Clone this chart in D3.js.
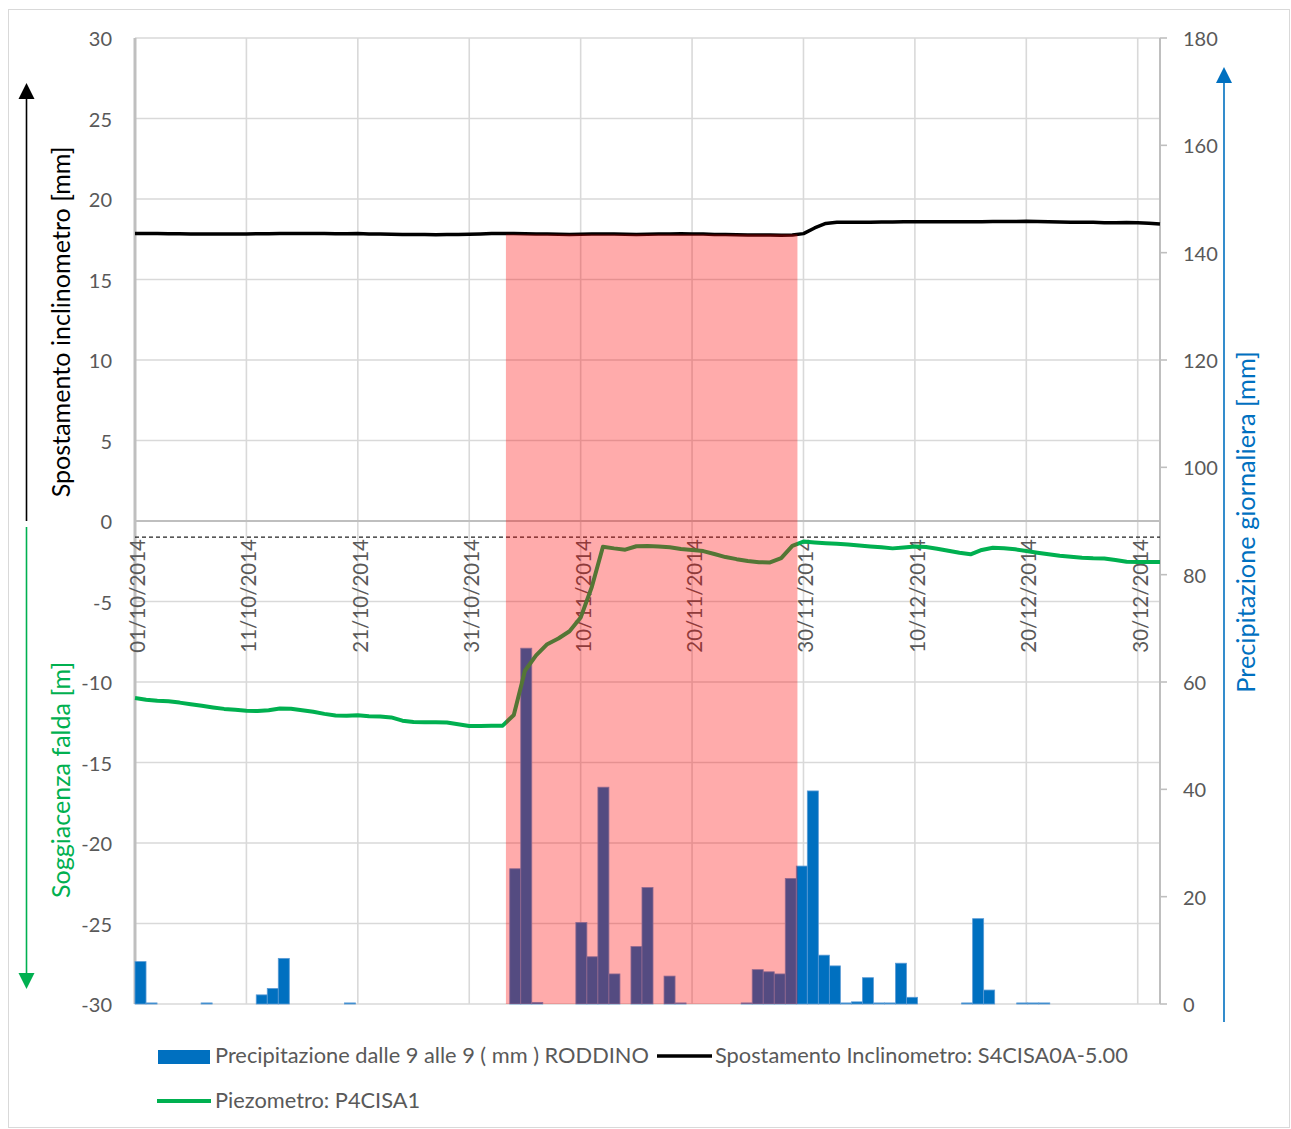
<!DOCTYPE html>
<html><head><meta charset="utf-8">
<script src="https://cdn.jsdelivr.net/npm/d3@7"></script>
<style>
body{margin:0;background:#fff}
svg{display:block}
text{font-family:Lato,"Open Sans",sans-serif}
</style>
</head><body>
<script>
// ---------- data ----------
const startDate = "2014-10-01";
const endDate = "2015-01-01";
// daily rain (mm), 01/10/2014 .. 01/01/2015
const precipitation = [
 7.9,0.2,0,0,0,0,0.2,0,0,0,
 0,1.7,2.9,8.5,0,0,0,0,0,0.2,
 0,0,0,0,0,0,0,0,0,0,
 0,0,0,0,25.2,66.3,0.3,0,0,0,
 15.2,8.8,40.4,5.6,0,10.7,21.7,0,5.2,0.2,
 0,0,0,0,0,0.2,6.4,6.0,5.6,23.4,
 25.7,39.7,9.1,7.1,0.2,0.4,4.9,0.2,0.2,7.6,
 1.25,0,0,0,0,0.2,15.9,2.6,0,0,
 0.2,0.2,0.2,0,0,0,0,0,0,0,
 0,0,0
];
// piezometer depth (m)
const piezometer = [
 -11.0,-11.1,-11.17,-11.2,-11.28,-11.38,-11.48,-11.58,-11.67,-11.72,
 -11.78,-11.8,-11.75,-11.65,-11.66,-11.75,-11.85,-11.98,-12.08,-12.1,
 -12.07,-12.12,-12.15,-12.2,-12.4,-12.48,-12.5,-12.5,-12.52,-12.62,
 -12.73,-12.73,-12.72,-12.71,-12.05,-9.3,-8.35,-7.65,-7.3,-6.85,
 -6.0,-4.1,-1.6,-1.7,-1.78,-1.57,-1.55,-1.58,-1.63,-1.74,
 -1.8,-1.87,-2.05,-2.24,-2.37,-2.48,-2.56,-2.57,-2.3,-1.55,
 -1.28,-1.33,-1.38,-1.42,-1.46,-1.52,-1.58,-1.63,-1.7,-1.65,
 -1.59,-1.62,-1.72,-1.85,-1.97,-2.07,-1.8,-1.66,-1.69,-1.76,
 -1.86,-1.97,-2.07,-2.16,-2.22,-2.28,-2.32,-2.33,-2.42,-2.53,
 -2.55,-2.55,-2.55
];
// inclinometer displacement (mm)
const inclinometer = [
 17.85,17.86,17.85,17.84,17.84,17.83,17.83,17.83,17.82,17.82,
 17.83,17.84,17.84,17.85,17.85,17.86,17.86,17.85,17.84,17.84,
 17.85,17.83,17.82,17.81,17.8,17.8,17.79,17.78,17.79,17.8,
 17.81,17.83,17.85,17.86,17.85,17.84,17.83,17.82,17.81,17.8,
 17.81,17.82,17.83,17.82,17.81,17.8,17.81,17.82,17.83,17.84,
 17.83,17.82,17.8,17.79,17.78,17.77,17.76,17.76,17.75,17.76,
 17.85,18.2,18.48,18.55,18.55,18.56,18.56,18.57,18.57,18.58,
 18.58,18.58,18.58,18.58,18.58,18.58,18.59,18.6,18.6,18.6,
 18.62,18.6,18.58,18.57,18.56,18.56,18.55,18.53,18.53,18.54,
 18.53,18.5,18.45
];
const xTickDates = ["2014-10-01","2014-10-11","2014-10-21","2014-10-31","2014-11-10",
  "2014-11-20","2014-11-30","2014-12-10","2014-12-20","2014-12-30"];
const leftTicks = [30,25,20,15,10,5,0,-5,-10,-15,-20,-25,-30];
const rightTicks = [0,20,40,60,80,100,120,140,160,180];
const highlightStart = "2014-11-03T07:00";
const highlightEnd = "2014-11-29T11:00";
const highlightTop = 17.8;
const thresholdLevel = -1;
const seriesNames = ["Precipitazione dalle 9 alle 9 ( mm ) RODDINO",
  "Spostamento Inclinometro: S4CISA0A-5.00","Piezometro: P4CISA1"];

// ---------- layout ----------
const W = 1291, H = 1129;
const L = 135, R = 1160, T = 38, B = 1004;
const cBlue = "#0070C0", cGreen = "#00B050", cGrid = "#D9D9D9", cAxis = "#BFBFBF", cText = "#595959";

const parse = d3.utcParse("%Y-%m-%d");
const parseT = d3.utcParse("%Y-%m-%dT%H:%M");
const d0 = parse(startDate), d1 = parse(endDate);
const days = d3.utcDay.range(d0, d3.utcDay.offset(d1, 1));

const x = d3.scaleUtc().domain([d0, d1]).range([L, R]);
const xb = d3.scaleBand().domain(days.map(d => +d)).range([L, R]).padding(0);
const yL = d3.scaleLinear().domain([-30, 30]).range([B, T]);
const yR = d3.scaleLinear().domain([0, 180]).range([B, T]);

const svg = d3.select("body").append("svg").attr("width", W).attr("height", H);
svg.append("rect").attr("x", 8.5).attr("y", 9.5).attr("width", 1281).attr("height", 1118)
  .attr("fill", "#fff").attr("stroke", cGrid).attr("stroke-width", 1);

// gridlines
const grid = svg.append("g");
grid.selectAll("line.h").data(leftTicks).join("line")
  .attr("x1", L).attr("x2", R).attr("y1", d => yL(d)).attr("y2", d => yL(d))
  .attr("stroke", cGrid).attr("stroke-width", 1.6);
grid.selectAll("line.v").data(xTickDates).join("line")
  .attr("x1", d => x(parse(d))).attr("x2", d => x(parse(d))).attr("y1", T).attr("y2", B)
  .attr("stroke", cGrid).attr("stroke-width", 1.6);

// axes lines
svg.append("line").attr("x1", L).attr("x2", L).attr("y1", T).attr("y2", B)
  .attr("stroke", cAxis).attr("stroke-width", 3);
svg.append("line").attr("x1", R).attr("x2", R).attr("y1", T).attr("y2", B)
  .attr("stroke", cAxis).attr("stroke-width", 2);
svg.append("line").attr("x1", L).attr("x2", R).attr("y1", yL(0)).attr("y2", yL(0))
  .attr("stroke", cAxis).attr("stroke-width", 2);

// left tick labels
svg.append("g").selectAll("text").data(leftTicks).join("text")
  .attr("x", 112).attr("y", d => yL(d)).attr("text-anchor", "end")
  .attr("dominant-baseline", "central").attr("font-size", 20).attr("fill", cText)
  .text(d => String(d));
// right ticks
const rg = svg.append("g");
rg.selectAll("line").data(rightTicks).join("line")
  .attr("x1", R).attr("x2", R + 7).attr("y1", d => yR(d)).attr("y2", d => yR(d))
  .attr("stroke", cAxis).attr("stroke-width", 1.6);
rg.selectAll("text").data(rightTicks).join("text")
  .attr("x", 1183).attr("y", d => yR(d)).attr("dominant-baseline", "central")
  .attr("font-size", 20).attr("fill", cText).text(d => String(d));

// x date labels
const fmt = d3.utcFormat("%d/%m/%Y");
svg.append("g").selectAll("text").data(xTickDates).join("text")
  .attr("transform", d => `translate(${x(parse(d)) + 2},539) rotate(-90)`)
  .attr("text-anchor", "end").attr("dominant-baseline", "central")
  .attr("font-size", 20.5).attr("fill", cText).text(d => fmt(parse(d)));

// bars
svg.append("g").selectAll("rect").data(days.map((d, i) => ({d, v: precipitation[i]})).filter(o => o.v > 0))
  .join("rect")
  .attr("x", o => xb(+o.d)).attr("width", xb.bandwidth())
  .attr("y", o => yR(o.v)).attr("height", o => yR(0) - yR(o.v))
  .attr("fill", cBlue).attr("stroke", "#5B9BD5").attr("stroke-width", 0.8);

// piezometer line
const lineL = d3.line().x((v, i) => x(days[i])).y(v => yL(v));
svg.append("path").attr("d", lineL(piezometer)).attr("fill", "none")
  .attr("stroke", cGreen).attr("stroke-width", 4).attr("stroke-linejoin", "round");

// threshold dashed line
svg.append("line").attr("x1", L).attr("x2", R).attr("y1", yL(thresholdLevel)).attr("y2", yL(thresholdLevel))
  .attr("stroke", "#222").attr("stroke-width", 1.3).attr("stroke-dasharray", "4,3");

// inclinometer line
svg.append("path").attr("d", lineL(inclinometer)).attr("fill", "none")
  .attr("stroke", "#000").attr("stroke-width", 3.5).attr("stroke-linejoin", "round");

// highlight overlay
svg.append("rect")
  .attr("x", x(parseT(highlightStart))).attr("width", x(parseT(highlightEnd)) - x(parseT(highlightStart)))
  .attr("y", yL(highlightTop)).attr("height", yL(-30) - yL(highlightTop))
  .attr("fill", "#FF0000").attr("fill-opacity", 0.33);

// axis titles
svg.append("text").attr("transform", "translate(60,322) rotate(-90)").attr("text-anchor", "middle")
  .attr("dominant-baseline", "central").attr("font-size", 25.1).attr("fill", "#000")
  .text("Spostamento inclinometro [mm]");
svg.append("text").attr("transform", "translate(60,780) rotate(-90)").attr("text-anchor", "middle")
  .attr("dominant-baseline", "central").attr("font-size", 25.1).attr("fill", cGreen)
  .text("Soggiacenza falda [m]");
svg.append("text").attr("transform", "translate(1245,522) rotate(-90)").attr("text-anchor", "middle")
  .attr("dominant-baseline", "central").attr("font-size", 25.3).attr("fill", cBlue)
  .text("Precipitazione giornaliera [mm]");

// arrows
function arrow(xp, yFrom, yTip, color, up) {
  const g = svg.append("g");
  const base = up ? yTip + 16 : yTip - 16;
  g.append("line").attr("x1", xp).attr("x2", xp).attr("y1", yFrom).attr("y2", base)
    .attr("stroke", color).attr("stroke-width", 1.6);
  g.append("path").attr("d", `M${xp},${yTip} L${xp - 8},${base} L${xp + 8},${base} Z`).attr("fill", color);
}
arrow(26.5, yL(0), 83, "#000", true);
arrow(26.5, 527, 989, cGreen, false);
arrow(1224, 1022, 67, cBlue, true);

// legend
const lg = svg.append("g");
lg.append("rect").attr("x", 158).attr("y", 1050).attr("width", 52).attr("height", 14).attr("fill", cBlue);
lg.append("text").attr("x", 215).attr("y", 1063).attr("font-size", 21.8).attr("fill", cText).text(seriesNames[0]);
lg.append("line").attr("x1", 657).attr("x2", 712).attr("y1", 1056).attr("y2", 1056)
  .attr("stroke", "#000").attr("stroke-width", 3.5);
lg.append("text").attr("x", 715).attr("y", 1063).attr("font-size", 21.8).attr("fill", cText).text(seriesNames[1]);
lg.append("line").attr("x1", 157).attr("x2", 211).attr("y1", 1101).attr("y2", 1101)
  .attr("stroke", cGreen).attr("stroke-width", 4);
lg.append("text").attr("x", 215).attr("y", 1108).attr("font-size", 21.8).attr("fill", cText).text(seriesNames[2]);
</script>
</body></html>
